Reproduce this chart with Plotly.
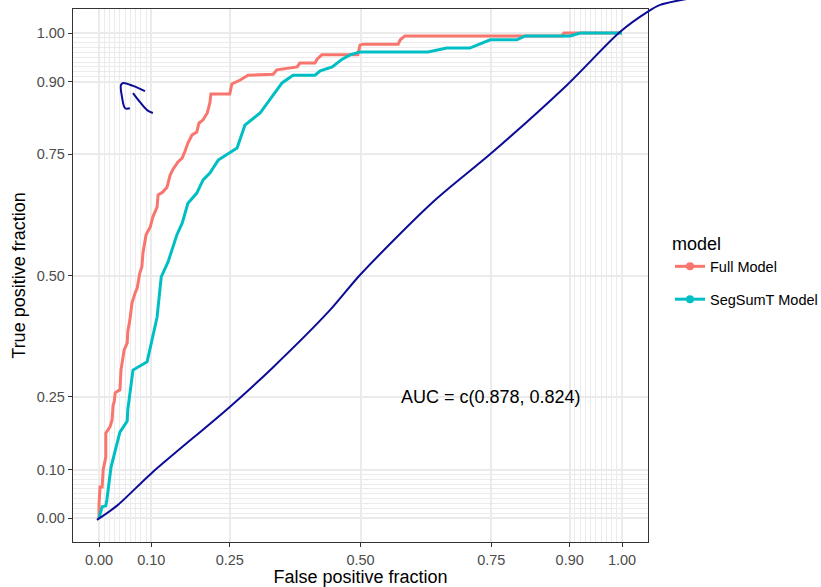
import plotly.graph_objects as go

# ---------------- data ----------------
full_fpr = [0.000, 0.000, 0.002, 0.006, 0.008, 0.011, 0.013, 0.013, 0.021, 0.025, 0.027, 0.029,
            0.031, 0.036, 0.040, 0.042, 0.044, 0.048, 0.054, 0.055, 0.059, 0.061, 0.063, 0.069,
            0.073, 0.078, 0.082, 0.084, 0.090, 0.098, 0.103, 0.111, 0.113, 0.122, 0.130, 0.136,
            0.141, 0.151, 0.159, 0.164, 0.170, 0.178, 0.187, 0.191, 0.199, 0.207, 0.212, 0.214,
            0.250, 0.254, 0.270, 0.285, 0.333, 0.340, 0.379, 0.384, 0.413, 0.417, 0.426, 0.495,
            0.499, 0.505, 0.572, 0.576, 0.585, 0.885, 0.889, 1.000]
full_tpr = [0.000, 0.027, 0.064, 0.064, 0.099, 0.120, 0.126, 0.175, 0.188, 0.202, 0.233, 0.239,
            0.258, 0.262, 0.264, 0.305, 0.322, 0.346, 0.361, 0.384, 0.408, 0.423, 0.443, 0.464,
            0.474, 0.505, 0.518, 0.546, 0.584, 0.600, 0.621, 0.641, 0.666, 0.672, 0.682, 0.707,
            0.718, 0.734, 0.742, 0.755, 0.773, 0.790, 0.796, 0.814, 0.821, 0.835, 0.856, 0.874,
            0.874, 0.895, 0.903, 0.913, 0.915, 0.924, 0.930, 0.938, 0.938, 0.946, 0.955, 0.955,
            0.975, 0.977, 0.977, 0.986, 0.994, 0.994, 1.000, 1.000]

seg_fpr = [0.000, 0.006, 0.013, 0.015, 0.023, 0.040, 0.054, 0.055, 0.065, 0.092, 0.111, 0.119,
           0.132, 0.149, 0.159, 0.170, 0.187, 0.199, 0.212, 0.228, 0.264, 0.279, 0.308, 0.327,
           0.350, 0.371, 0.413, 0.423, 0.446, 0.465, 0.480, 0.499, 0.629, 0.665, 0.709, 0.748,
           0.799, 0.815, 0.901, 0.920, 1.000]
seg_tpr = [0.000, 0.023, 0.025, 0.037, 0.105, 0.177, 0.200, 0.223, 0.305, 0.322, 0.414, 0.497,
           0.528, 0.584, 0.608, 0.649, 0.670, 0.697, 0.711, 0.738, 0.763, 0.810, 0.835, 0.862,
           0.897, 0.913, 0.913, 0.922, 0.930, 0.946, 0.955, 0.961, 0.961, 0.969, 0.969, 0.986,
           0.986, 0.994, 0.994, 1.000, 1.000]

# hand-drawn blue pen strokes (data units of the chart)
pen_curve_x = [-0.004, 0.034, 0.101, 0.250, 0.333, 0.442, 0.499, 0.639, 0.751, 0.895,
               0.996, 1.048, 1.073, 1.150]
pen_curve_y = [-0.004, 0.025, 0.093, 0.229, 0.311, 0.429, 0.501, 0.652, 0.753, 0.893,
               1.002, 1.043, 1.058, 1.075]
pen_arrow1_x = [0.088, 0.065, 0.046, 0.042, 0.044, 0.050, 0.059]
pen_arrow1_y = [0.880, 0.891, 0.897, 0.893, 0.868, 0.845, 0.845]
pen_arrow2_x = [0.065, 0.078, 0.092, 0.103]
pen_arrow2_y = [0.876, 0.858, 0.841, 0.835]

model_names = ["Full Model", "SegSumT Model"]
model_colors = ["#F8766D", "#00BFC4"]

major_ticks = [0, 0.1, 0.25, 0.5, 0.75, 0.9, 1.0]
major_labels = ["0.00", "0.10", "0.25", "0.50", "0.75", "0.90", "1.00"]
minor_ticks = [0.01, 0.02, 0.03, 0.04, 0.05, 0.06, 0.07, 0.08, 0.09,
               0.91, 0.92, 0.93, 0.94, 0.95, 0.96, 0.97, 0.98, 0.99]

auc_text = "AUC = c(0.878, 0.824)"

# ---------------- layout geometry ----------------
W, H = 821, 587
xr = [-0.05, 1.05]
yr = [-0.05, 1.05]
xdom = [72.85 / W, 648.15 / W]
ydom = [1 - 542.25 / H, 1 - 8.75 / H]


def full_range(r, d):
    s = (r[1] - r[0]) / (d[1] - d[0])
    return [r[0] - d[0] * s, r[1] + (1 - d[1]) * s]


FONT = "Liberation Sans, Arial, sans-serif"

fig = go.Figure()

fig.add_trace(go.Scatter(x=full_fpr, y=full_tpr, mode="lines",
                         line=dict(color=model_colors[0], width=3), showlegend=False,
                         hoverinfo="skip"))
fig.add_trace(go.Scatter(x=seg_fpr, y=seg_tpr, mode="lines",
                         line=dict(color=model_colors[1], width=3), showlegend=False,
                         hoverinfo="skip"))

# legend entries
for i, (nm, col) in enumerate(zip(model_names, model_colors)):
    fig.add_trace(go.Scatter(x=[None], y=[None], mode="lines+markers", name=nm,
                             legendgroup=nm,
                             line=dict(color=col, width=3), marker=dict(color=col, size=8)))

# pen strokes on a full-canvas overlay axis pair (not clipped to the panel)
pen = dict(color="#0c0c96", width=2)
fig.add_trace(go.Scatter(x=pen_curve_x, y=pen_curve_y, mode="lines", line=dict(shape="spline", smoothing=0.8, **pen),
                         xaxis="x2", yaxis="y2", showlegend=False, hoverinfo="skip"))
fig.add_trace(go.Scatter(x=pen_arrow1_x, y=pen_arrow1_y, mode="lines", line=dict(shape="spline", **pen),
                         xaxis="x2", yaxis="y2", showlegend=False, hoverinfo="skip"))
fig.add_trace(go.Scatter(x=pen_arrow2_x, y=pen_arrow2_y, mode="lines", line=dict(shape="spline", **pen),
                         xaxis="x2", yaxis="y2", showlegend=False, hoverinfo="skip"))

axis_common = dict(
    tickmode="array", tickvals=major_ticks, ticktext=major_labels,
    showgrid=True, gridcolor="#ebebeb", gridwidth=1.6,
    zeroline=False, showline=True, mirror=True, linecolor="#333333", linewidth=1,
    ticks="outside", ticklen=4, tickcolor="#333333", tickwidth=1,
    tickfont=dict(family=FONT, size=14.5, color="#4d4d4d"),
    minor=dict(tickmode="array", tickvals=minor_ticks, showgrid=True,
               gridcolor="#ebebeb", gridwidth=0.9, ticks=""),
    automargin=False,
)

fig.update_layout(
    width=W, height=H,
    margin=dict(l=0, r=0, t=0, b=0, autoexpand=False),
    paper_bgcolor="white", plot_bgcolor="rgba(0,0,0,0)",
    xaxis=dict(range=xr, domain=xdom, anchor="y",
               title=dict(text="False positive fraction", standoff=8,
                          font=dict(family=FONT, size=18, color="black")),
               **axis_common),
    yaxis=dict(range=yr, domain=ydom, anchor="x",
               title=dict(text="True positive fraction", standoff=6,
                          font=dict(family=FONT, size=18, color="black")),
               **axis_common),
    xaxis2=dict(range=full_range(xr, xdom), domain=[0, 1], anchor="y2", visible=False,
                fixedrange=True),
    yaxis2=dict(range=full_range(yr, ydom), domain=[0, 1], anchor="x2", visible=False,
                fixedrange=True),
    legend=dict(title=dict(text="model", font=dict(family=FONT, size=18, color="black")),
                font=dict(family=FONT, size=14.5, color="black"),
                x=670 / W, xanchor="left", y=1 - 227 / H, yanchor="top",
                traceorder="grouped", tracegroupgap=11, itemwidth=30,
                bgcolor="rgba(0,0,0,0)"),
    annotations=[dict(x=0.75, y=0.25, xref="x", yref="y", text=auc_text, showarrow=False,
                      font=dict(family=FONT, size=18, color="black"))],
    showlegend=True,
)

fig.write_html("out.html", config={"displayModeBar": False},
               post_script="document.body.style.margin='0';document.body.style.padding='0';document.body.style.overflow='hidden';")
